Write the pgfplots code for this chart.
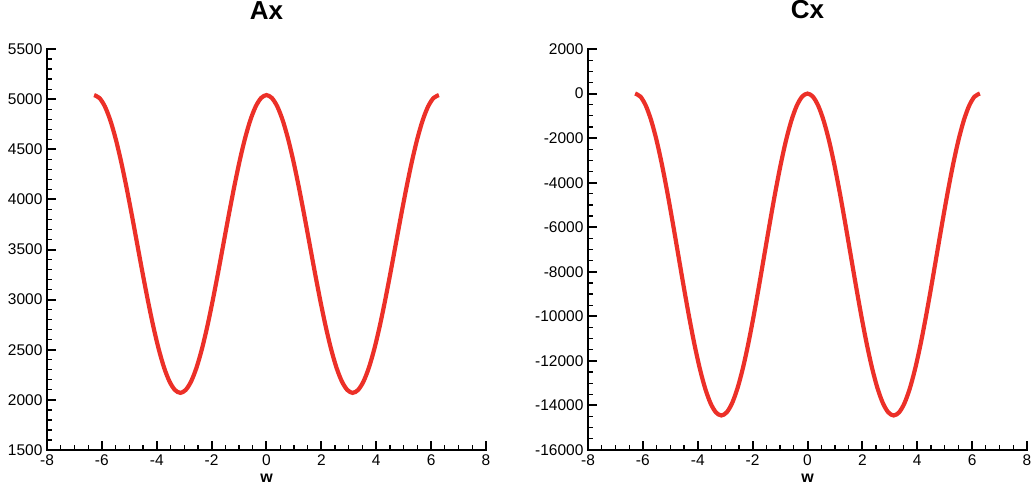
\documentclass[border=0pt]{standalone}
\usepackage{fontspec}
\setmainfont{Liberation Sans}
\usepackage{pgfplots}
\usepackage{pgfplotstable}
\pgfplotsset{compat=1.18}
\definecolor{curvered}{RGB}{236,48,40}

% w, Ax, Cx
\pgfplotstableread{
w Ax Cx
-6.2832 5040 0
-6.0868 5011 -139
-5.8905 4927 -550
-5.6941 4790 -1218
-5.4978 4605 -2116
-5.3014 4380 -3211
-5.1051 4123 -4460
-4.9087 3845 -5816
-4.7124 3555 -7225
-4.5160 3265 -8635
-4.3197 2987 -9990
-4.1233 2730 -11239
-3.9270 2505 -12334
-3.7306 2320 -13232
-3.5343 2183 -13900
-3.3379 2099 -14311
-3.1416 2070 -14450
-2.9452 2099 -14311
-2.7489 2183 -13900
-2.5525 2320 -13232
-2.3562 2505 -12334
-2.1598 2730 -11239
-1.9635 2987 -9990
-1.7671 3265 -8635
-1.5708 3555 -7225
-1.3744 3845 -5816
-1.1781 4123 -4460
-0.9817 4380 -3211
-0.7854 4605 -2116
-0.5890 4790 -1218
-0.3927 4927 -550
-0.1963 5011 -139
0.0000 5040 0
0.1963 5011 -139
0.3927 4927 -550
0.5890 4790 -1218
0.7854 4605 -2116
0.9817 4380 -3211
1.1781 4123 -4460
1.3744 3845 -5816
1.5708 3555 -7225
1.7671 3265 -8635
1.9635 2987 -9990
2.1598 2730 -11239
2.3562 2505 -12334
2.5525 2320 -13232
2.7489 2183 -13900
2.9452 2099 -14311
3.1416 2070 -14450
3.3379 2099 -14311
3.5343 2183 -13900
3.7306 2320 -13232
3.9270 2505 -12334
4.1233 2730 -11239
4.3197 2987 -9990
4.5160 3265 -8635
4.7124 3555 -7225
4.9087 3845 -5816
5.1051 4123 -4460
5.3014 4380 -3211
5.4978 4605 -2116
5.6941 4790 -1218
5.8905 4927 -550
6.0868 5011 -139
6.2832 5040 0
}\datatable

\pgfplotsset{
  panel/.style={
    scale only axis, width=439pt, height=401pt,
    anchor=south west,
    axis lines*=left,
    axis line style={line width=2.4pt, line cap=rect},
    tick align=inside,
    major tick length=9pt, minor tick length=5pt,
    every major tick/.append style={line width=2pt, black},
    every minor tick/.append style={line width=1.2pt, black},
    xmin=-8, xmax=8, xtick distance=2, minor x tick num=3,
    scaled ticks=false,
    /pgf/number format/1000 sep={},
    /pgf/number format/assume math mode=true,
    tick label style={font=\fontsize{15.5}{18}\selectfont},
    yticklabel style={xshift=-1pt},
    xticklabel style={yshift=-1pt},
    title style={at={(axis description cs:0.5,1)}, anchor=base, yshift=24pt,
      font=\fontsize{26}{30}\selectfont\bfseries},
    xlabel style={at={(axis description cs:0.5,0)}, anchor=base, yshift=-32pt,
      font=\fontsize{16}{19}\selectfont\bfseries},
    xlabel={w},
  },
}

\begin{document}
\begin{tikzpicture}
\useasboundingbox (-47pt,-40pt) rectangle (987pt,450pt);
\begin{axis}[panel, at={(0pt,0pt)}, title={Ax},
  ymin=1500, ymax=5500, ytick distance=500, minor y tick num=4]
\addplot[curvered, line width=4.2pt, smooth] table[x=w, y=Ax] {\datatable};
\end{axis}
\begin{axis}[panel, at={(541pt,0pt)}, title={Cx},
  ymin=-16000, ymax=2000, ytick distance=2000, minor y tick num=3]
\addplot[curvered, line width=4.2pt, smooth] table[x=w, y=Cx] {\datatable};
\end{axis}
\end{tikzpicture}
\end{document}
